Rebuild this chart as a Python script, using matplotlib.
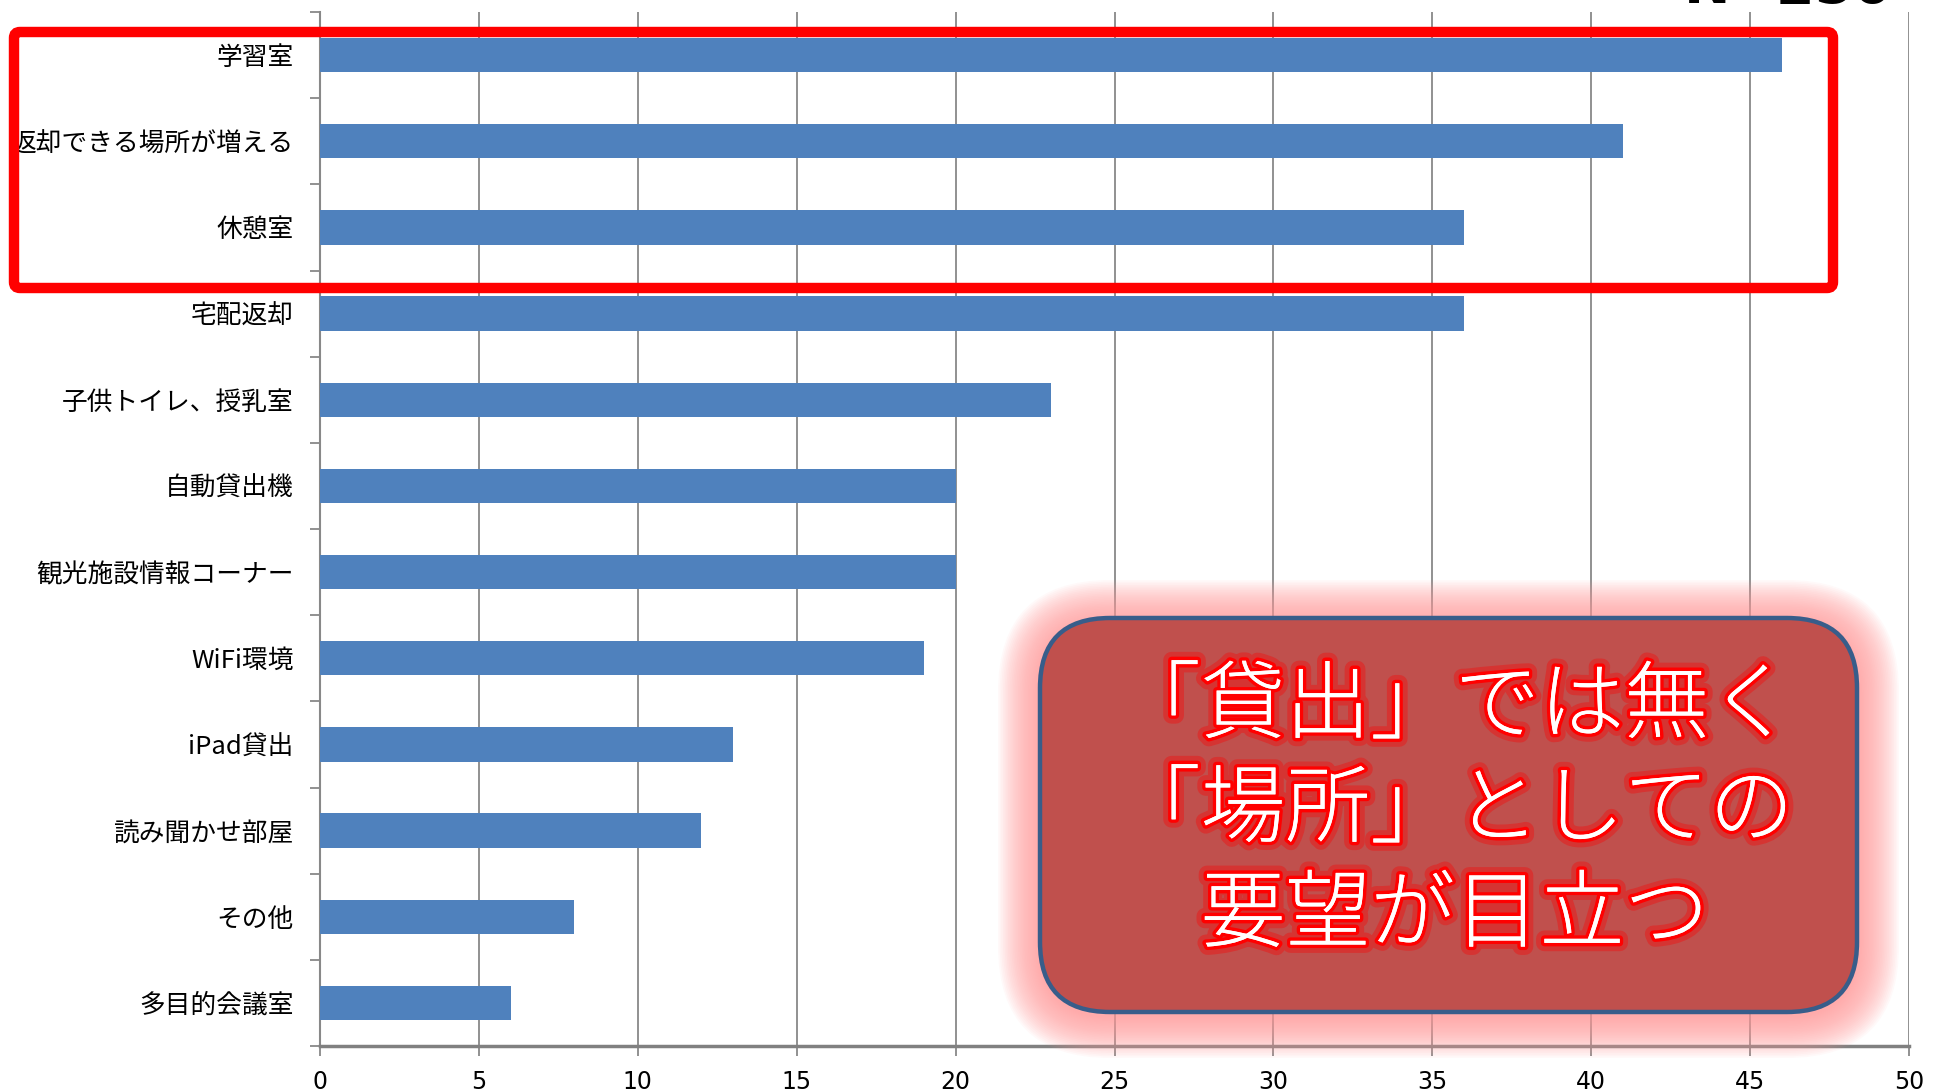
import matplotlib
matplotlib.use("Agg")
import matplotlib.pyplot as plt
import numpy as np
from matplotlib.patches import FancyBboxPatch
import matplotlib.patheffects as pe

plt.rcParams['font.family'] = ['Noto Sans CJK JP', 'DejaVu Sans']

# data, top to bottom
categories = ["学習室", "返却できる場所が増える", "休憩室", "宅配返却",
              "子供トイレ、授乳室", "自動貸出機", "観光施設情報コーナー",
              "WiFi環境", "iPad貸出", "読み聞かせ部屋", "その他", "多目的会議室"]
counts = [46, 41, 36, 36, 23, 20, 20, 19, 13, 12, 8, 6]
x_ticks = [0, 5, 10, 15, 20, 25, 30, 35, 40, 45, 50]
callout_lines = ["「貸出」では無く", "「場所」としての", "要望が目立つ"]

W, H = 1945, 1092
fig = plt.figure(figsize=(W / 100, H / 100), dpi=100)

# main chart, placed in pixel terms
ax = fig.add_axes([320 / W, 1 - 1046 / H, (1909 - 320) / W, (1046 - 12) / H])
y = np.arange(len(categories))
ax.barh(y, counts, height=0.4, color="#4F81BD", zorder=3)
ax.set_ylim(len(categories) - 0.5, -0.5)
ax.set_xlim(0, 50)
ax.set_xticks(x_ticks)
ax.set_xticklabels([str(t) for t in x_ticks], fontsize=17,
                   family=['Liberation Sans Narrow', 'DejaVu Sans'])
ax.set_yticks(y)
ax.set_yticklabels(categories, fontsize=18.5)
ax.set_yticks(np.arange(len(categories) + 1) - 0.5, minor=True)
ax.tick_params(axis='y', which='major', length=0, pad=19)
ax.tick_params(axis='y', which='minor', length=7, color="#888888", width=1.3)
ax.tick_params(axis='x', length=7, color="#888888", width=1.3, pad=10)
ax.grid(axis='x', color="#888888", linewidth=1.3, zorder=0)
for s in ["top", "right"]:
    ax.spines[s].set_visible(False)
ax.spines["left"].set_color("#888888")
ax.spines["left"].set_linewidth(1.5)
ax.spines["bottom"].set_color("#808080")
ax.spines["bottom"].set_linewidth(2.5)

# overlay in pixel coordinates (y downwards)
ov = fig.add_axes([0, 0, 1, 1], zorder=5)
ov.set_xlim(0, W)
ov.set_ylim(H, 0)
ov.axis('off')
ov.patch.set_visible(False)

# red highlight frame around the top three bars
ov.add_patch(FancyBboxPatch((14, 32), 1819, 256,
                            boxstyle="round,pad=0,rounding_size=6",
                            facecolor="none", edgecolor="#FF0000", linewidth=7.5))

# N= label, mostly cut off at the top edge
ov.text(1788, 3, "N=250", fontsize=40, fontweight='bold', ha='center',
        va='baseline', color='black', family=['DejaVu Sans'])

# callout box with pink glow
bx, by, bw, bh = 1040, 618, 817, 394
n = 25
for i in range(n):
    p = 42 * (1 - i / n)
    ov.add_patch(FancyBboxPatch((bx - p, by - p + 4), bw + 2 * p, bh + 2 * p,
                                boxstyle=f"round,pad=0,rounding_size={70 + p}",
                                facecolor=(1.0, 0.6, 0.6), alpha=0.055,
                                edgecolor='none'))
ov.add_patch(FancyBboxPatch((bx, by), bw, bh,
                            boxstyle="round,pad=0,rounding_size=70",
                            facecolor="#C0504D", edgecolor="#385D8A", linewidth=3.2))

line_y = [708, 812, 917]
for txt, ly in zip(callout_lines, line_y):
    ov.text(1455, ly, txt, fontsize=61, color='white', ha='center', va='center',
            fontweight='light',
            path_effects=[pe.withStroke(linewidth=12, foreground=(1, 0, 0, 0.35)),
                          pe.withStroke(linewidth=5, foreground='#FF0000'),
                          pe.Normal()])

fig.savefig("out.png", dpi=100)
